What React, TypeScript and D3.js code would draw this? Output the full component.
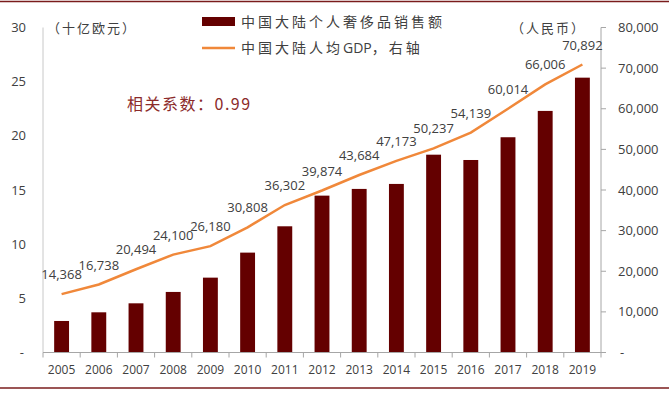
import React from 'react'
import * as d3 from 'd3'

const years = ['2005', '2006', '2007', '2008', '2009', '2010', '2011', '2012', '2013', '2014', '2015', '2016', '2017', '2018', '2019']
const luxurySales = [2.91, 3.71, 4.54, 5.59, 6.91, 9.22, 11.65, 14.48, 15.1, 15.56, 18.26, 17.77, 19.87, 22.3, 25.37]
const gdpPerCapita = [14368, 16738, 20494, 24100, 26180, 30808, 36302, 39874, 43684, 47173, 50237, 54139, 60014, 66006, 70892]
const barLabel = '中国大陆个人奢侈品销售额'
const lineLabelParts = ['中国大陆人均', 'GDP', '，右轴']
const leftUnit = '（十亿欧元）'
const rightUnit = '（人民币）'
const corrNote = '相关系数：0.99'

const width = 669
const height = 393
const margin = { top: 27.5, right: 68, bottom: 40.5, left: 43 }
const plotRight = width - margin.right
const plotBottom = height - margin.bottom

const numFont = '"Open Sans", "Liberation Sans", sans-serif'
const cjkFont = '"Noto Sans CJK SC", "Noto Sans", sans-serif'
const textColor = '#404040'
const barColor = '#640000'
const lineColor = '#F0883A'
const frameColor = '#7a1c1c'

export default function App() {
	const x = d3.scaleBand().domain(years).range([margin.left, plotRight]).padding(0)
	const step = x.step()
	const barW = step * 0.4
	const yLeft = d3.scaleLinear().domain([0, 30]).range([plotBottom, margin.top])
	const yRight = d3.scaleLinear().domain([0, 80000]).range([plotBottom, margin.top])
	const fmt = d3.format(',')
	const cx = (yr: string) => (x(yr) ?? 0) + step / 2

	const line = d3
		.line<number>()
		.x((_, i) => cx(years[i]))
		.y(d => yRight(d))

	return (
		<svg
			width={width}
			height={height}
			style={{ position: 'absolute', left: 0, top: 0, background: '#fff' }}
		>
			{/* frame lines */}
			<line x1={0} x2={width} y1={1.5} y2={1.5} stroke={frameColor} strokeWidth={1.5} />
			<line x1={0} x2={width} y1={388} y2={388} stroke={frameColor} strokeWidth={1.5} />

			{/* bars */}
			{luxurySales.map((v, i) => (
				<rect
					key={years[i]}
					x={cx(years[i]) - barW / 2}
					y={yLeft(v)}
					width={barW}
					height={plotBottom - yLeft(v)}
					fill={barColor}
				/>
			))}

			{/* axes */}
			<line x1={margin.left} x2={margin.left} y1={margin.top} y2={plotBottom} stroke="#c8c8c8" />
			<line x1={plotRight} x2={plotRight} y1={margin.top} y2={plotBottom} stroke="#a6a6a6" />
			<line x1={margin.left} x2={plotRight} y1={plotBottom} y2={plotBottom} stroke="#a6a6a6" />
			{years.map(yr => (
				<line key={'t' + yr} x1={x(yr)} x2={x(yr)} y1={plotBottom} y2={plotBottom + 5} stroke="#a6a6a6" />
			))}
			<line x1={plotRight} x2={plotRight} y1={plotBottom} y2={plotBottom + 5} stroke="#a6a6a6" />
			{yRight.ticks(8).map(t => (
				<line key={'rt' + t} x1={plotRight} x2={plotRight + 5} y1={yRight(t)} y2={yRight(t)} stroke="#a6a6a6" />
			))}

			{/* left tick labels */}
			{yLeft.ticks(6).map(t => (
				<text
					key={'l' + t}
					x={t === 0 ? 24 : 26}
					y={yLeft(t)}
					dy="0.35em"
					textAnchor="end"
					fontFamily={numFont}
					fontSize={13}
					fill={textColor}
				>
					{t === 0 ? '-' : t}
				</text>
			))}

			{/* right tick labels */}
			{yRight.ticks(8).map(t => (
				<text
					key={'r' + t}
					x={t === 0 ? 620 : 618}
					y={yRight(t)}
					dy="0.35em"
					textAnchor="start"
					fontFamily={numFont}
					fontSize={13}
					fill={textColor}
				>
					{t === 0 ? '-' : fmt(t)}
				</text>
			))}

			{/* year labels */}
			{years.map(yr => (
				<text
					key={'y' + yr}
					x={cx(yr)}
					y={374}
					textAnchor="middle"
					fontFamily={numFont}
					fontSize={12}
					fill={textColor}
				>
					{yr}
				</text>
			))}

			{/* gdp line */}
			<path d={line(gdpPerCapita) ?? ''} fill="none" stroke={lineColor} strokeWidth={2.5} />
			{gdpPerCapita.map((v, i) => (
				<text
					key={'d' + i}
					x={cx(years[i])}
					y={yRight(v) - 15}
					textAnchor="middle"
					fontFamily={numFont}
					fontSize={13}
					fill={textColor}
				>
					{fmt(v)}
				</text>
			))}

			{/* units */}
			<text x={47} y={33} fontFamily={cjkFont} fontSize={13} letterSpacing={2} fill={textColor}>
				{leftUnit}
			</text>
			<text x={511} y={33} fontFamily={cjkFont} fontSize={13} letterSpacing={2} fill={textColor}>
				{rightUnit}
			</text>

			{/* legend */}
			<rect x={202} y={17} width={33} height={9} fill={barColor} />
			<text x={241} y={27} fontFamily={cjkFont} fontSize={14} letterSpacing={3} fill={textColor}>
				{barLabel}
			</text>
			<line x1={202} x2={235} y1={48} y2={48} stroke={lineColor} strokeWidth={2.5} />
			<text x={241} y={53} fontFamily={cjkFont} fontSize={14} fill={textColor}>
				<tspan letterSpacing={3}>{lineLabelParts[0]}</tspan>
				<tspan letterSpacing={0} fontFamily={numFont}>{lineLabelParts[1]}</tspan>
				<tspan letterSpacing={3}>{lineLabelParts[2]}</tspan>
			</text>

			{/* correlation note */}
			<text x={127} y={110} fontFamily={cjkFont} fontSize={16} letterSpacing={1.5} fill="#8b2a2a">
				{corrNote}
			</text>
		</svg>
	)
}
